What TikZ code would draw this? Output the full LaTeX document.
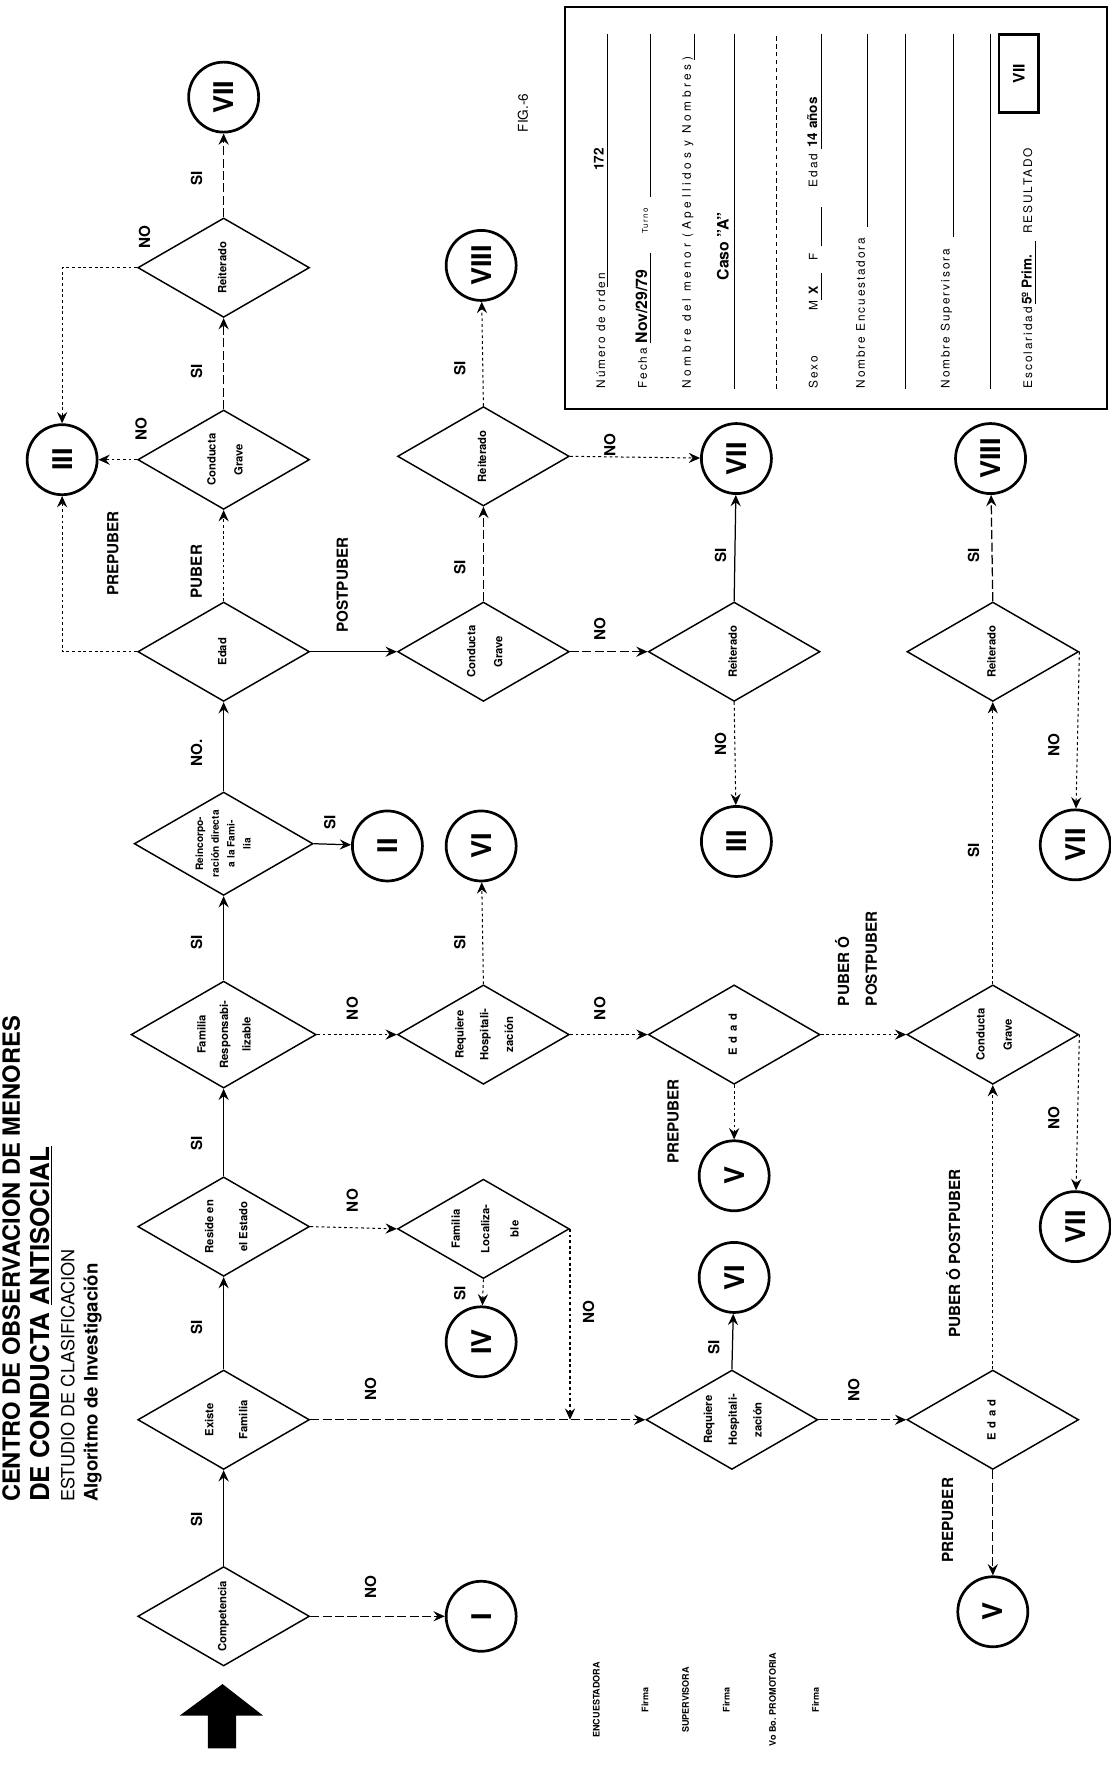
\documentclass[tikz,border=0pt]{standalone}
\usepackage{fontspec}
\usepackage{graphicx}
\setmainfont{TeX Gyre Heros}
\newfontfamily\formfont{TeX Gyre Heros}[LetterSpace=16]
\newfontfamily\wideform{TeX Gyre Heros}[LetterSpace=30]
\usetikzlibrary{shapes.geometric, positioning, arrows.meta, calc}
\newcommand{\fsz}[1]{\fontsize{#1}{#1}\selectfont}
\newcommand{\dtx}[3][10]{\rotatebox{90}{\fontsize{#1}{#2}\selectfont\bfseries\begin{tabular}{@{}c@{}}#3\end{tabular}}}

\begin{document}
\begin{tikzpicture}[x=1pt, y=-1pt,
    dia/.style={diamond, draw, line width=1.3pt, minimum width=152pt, minimum height=88pt, inner sep=0pt, shape aspect=1.73},
    res/.style={circle, draw, line width=2.4pt, minimum size=62pt, inner sep=0pt, rotate=90, font=\bfseries\fsz{24}},
    lab/.style={rotate=90, inner sep=1pt, font=\bfseries\fsz{13.5}},
    ttl/.style={rotate=90, anchor=west, inner sep=0pt, font=\bfseries\fsz{23}},
    frm/.style={rotate=90, anchor=west, inner sep=0pt, font=\formfont\fsz{10.5}},
    sig/.style={rotate=90, inner sep=0pt, font=\bfseries\fsz{8}},
    flow/.style={-{Stealth[length=10pt, width=9pt, inset=3.5pt]}, line width=1.1pt},
    dflow/.style={flow, dash pattern=on 8pt off 3pt},
    oflow/.style={flow, line width=0.9pt, dash pattern=on 2.5pt off 2.5pt},
    fline/.style={line width=0.8pt}]
    \fill[white] (0,0) rectangle (983,1568);
    \useasboundingbox (0,0) rectangle (983,1568);

    % title
    \node[ttl, font=\bfseries\fsz{21}] (t1) at (10,1330) {CENTRO DE OBSERVACION DE MENORES};
    \node[ttl] (t2) at (36,1330) {DE CONDUCTA \underline{ANTISOCIAL}};
    \node[ttl, font=\fsz{16}] (t3) at (60,1330) {ESTUDIO DE CLASIFICACION};
    \node[ttl, font=\bfseries\fsz{16.5}] (t4) at (82,1330) {Algoritmo de Investigación};
    \node[rotate=90, font=\fsz{12}] (fig) at (463,100) {FIG.-6};

    % entry arrow
    \fill (197,1491) -- (233,1519) -- (209,1519) -- (209,1548) -- (184,1548) -- (184,1519) -- (159,1519) -- cycle;

    % decisions
    \node[dia] (comp)   at (198,1431) {\dtx{12}{Competencia}};
    \node[dia] (exist)  at (198,1257) {\dtx{30}{Existe\\Familia}};
    \node[dia] (reside) at (198,1086) {\dtx{30}{Reside en\\el Estado}};
    \node[dia] (famres) at (198,916)  {\dtx{20}{Familia\\Responsabi-\\lizable}};
    \node[dia] (reinc)  at (198,747)  {\dtx[9]{14}{Reincorpo-\\ración directa\\a la Fami-\\lia}};
    \node[dia] (edad1)  at (198,577)  {\dtx{12}{Edad}};
    \node[dia] (cg1)    at (198,407)  {\dtx{24}{Conducta\\Grave}};
    \node[dia] (reit1)  at (198,237)  {\dtx{12}{Reiterado}};
    \node[dia] (reit2)  at (428,404)  {\dtx{12}{Reiterado}};
    \node[dia] (cg2)    at (428,577)  {\dtx{24}{Conducta\\Grave}};
    \node[dia] (rh2)    at (428,916)  {\dtx{22}{Requiere\\Hospitali-\\zación}};
    \node[dia] (floc)   at (428,1088) {\dtx{26}{Familia\\Localiza-\\ble}};
    \node[dia] (reit3)  at (650,577)  {\dtx{12}{Reiterado}};
    \node[dia] (edad3)  at (650,916)  {\dtx{12}{E\hspace{4pt}d\hspace{4pt}a\hspace{4pt}d}};
    \node[dia] (rh3)    at (648,1257) {\dtx{22}{Requiere\\Hospitali-\\zación}};
    \node[dia] (reit4)  at (879,577)  {\dtx{12}{Reiterado}};
    \node[dia] (cg4)    at (879,916)  {\dtx{24}{Conducta\\Grave}};
    \node[dia] (edad4)  at (879,1257) {\dtx{12}{E\hspace{4pt}d\hspace{4pt}a\hspace{4pt}d}};

    % results
    \node[res] (vii1)   at (198,86)   {VII};
    \node[res] (iii1)   at (55,407)   {III};
    \node[res] (ci)     at (426,1431) {I};
    \node[res] (civ)    at (426,1188) {IV};
    \node[res] (cii)    at (343,749)  {II};
    \node[res] (cvi2)   at (426,749)  {VI};
    \node[res] (cviii2) at (426,235)  {VIII};
    \node[res] (cvii3)  at (652,406)  {VII};
    \node[res] (ciii3)  at (652,745)  {III};
    \node[res] (cv3)    at (650,1041) {V};
    \node[res] (cvi3)   at (650,1131) {VI};
    \node[res] (cviii4) at (877,406)  {VIII};
    \node[res] (cvii4a) at (952,748)  {VII};
    \node[res] (cvii4b) at (952,1086) {VII};
    \node[res] (cv4)    at (879,1427) {V};

    % connectors
    \draw[flow] (comp.north) -- (exist.south);
    \draw[flow] (exist.north) -- (reside.south);
    \draw[flow] (reside.north) -- (famres.south);
    \draw[flow] (famres.north) -- (reinc.south);
    \draw[flow] (reinc.north) -- (edad1.south);
    \draw[oflow] (edad1.north) -- (cg1.south);
    \draw[dflow] (cg1.north) -- (reit1.south);
    \draw[dflow] (reit1.north) -- (vii1);
    \draw[oflow] (cg1.west) -- (iii1);
    \draw[oflow] (reit1.west) -| (iii1);
    \draw[oflow] (edad1.west) -| (iii1);
    \draw[dflow] (comp.east) -- (ci);
    \draw[dflow] (exist.east) -- (rh3.west);
    \draw[oflow] (reside.east) -- (floc.west);
    \draw[oflow] (floc.south) -- (civ);
    \coordinate (flocj) at (floc.east |- exist.east);
    \draw[oflow] (floc.east) -- (flocj);
    \draw[oflow] (famres.east) -- (rh2.west);
    \draw[flow] (reinc.east) -- (cii);
    \draw[oflow] (rh2.north) -- (cvi2);
    \draw[oflow] (rh2.east) -- (edad3.west);
    \draw[flow] (edad1.east) -- (cg2.west);
    \draw[dflow] (cg2.north) -- (reit2.south);
    \draw[dflow] (cg2.east) -- (reit3.west);
    \draw[oflow] (reit2.north) -- (cviii2);
    \draw[oflow] (reit2.east) -- (cvii3);
    \draw[flow] (reit3.north) -- (cvii3);
    \draw[oflow] (reit3.south) -- (ciii3);
    \draw[oflow] (edad3.south) -- (cv3);
    \draw[oflow] (edad3.east) -- (cg4.west);
    \draw[flow] (rh3.north) -- (cvi3);
    \draw[dflow] (rh3.east) -- (edad4.west);
    \draw[dflow] (edad4.south) -- (cv4);
    \draw[oflow] (edad4.north) -- (cg4.south);
    \draw[oflow] (cg4.north) -- (reit4.south);
    \draw[dflow] (reit4.north) -- (cviii4);
    \draw[oflow] (reit4.east) -- (cvii4a);
    \draw[oflow] (cg4.east) -- (cvii4b);

    % branch labels
    \foreach \x/\y/\t [count=\i] in {174/1345/SI, 174/1175/SI, 174/1012/SI, 174/834/SI,
        174/667/NO., 174/506/PUBER, 174/329/SI, 174/158/SI, 328/1405/NO, 328/1230/NO,
        312/1063/NO, 312/893/NO, 292/728/SI, 128/210/NO, 125/380/NO, 100/490/PREPUBER,
        303/518/POSTPUBER, 407/1145/SI, 521/1162/NO, 407/834/SI, 531/893/NO, 407/502/SI,
        531/557/NO, 407/326/SI, 540/394/NO, 638/492/SI, 638/659/NO, 596/993/PREPUBER,
        632/1193/SI, 756/1231/NO, 862/492/SI, 933/660/NO, 862/753/SI, 933/990/NO,
        844/1110/PUBER Ó POSTPUBER, 839/1346/PREPUBER}
        \node[lab] (lab\i) at (\x,\y) {\t};
    \node[lab, anchor=west, align=left] (labpp) at (758,892) {PUBER Ó\\[11pt]POSTPUBER};

    % signatures
    \foreach \x/\t [count=\i] in {528/ENCUESTADORA, 571/Firma, 607/SUPERVISORA, 643/Firma,
        684/Vo Bo. PROMOTORIA, 722/Firma}
        \node[sig] (sig\i) at (\x,1505) {\t};

    % data sheet
    \draw[line width=1.8pt] (500,6) rectangle (980,362);
    \node[frm] (f1) at (532,344) {Número de orden};
    \node[rotate=90, font=\bfseries\fsz{12}] (f1v) at (530,141) {172};
    \node[frm] (f2) at (569,344) {Fecha};
    \node[frm, font=\bfseries\fsz{14}] (f2v) at (568,304) {Nov/29/79};
    \node[frm, font=\formfont\fsz{7}] (f2t) at (571,207) {Turno};
    \node[frm, font=\wideform\fsz{10.5}] (f3) at (609,344) {Nombre del menor (Apellidos y Nombres)};
    \node[rotate=90, font=\bfseries\fsz{14}] (f3v) at (640,218) {Caso "A"};
    \node[frm] (f4) at (720,344) {Sexo};
    \node[frm] (f4m) at (720,275) {M};
    \node[frm, font=\bfseries\fsz{11}] (f4x) at (720,261) {X};
    \node[frm] (f4f) at (720,231) {F};
    \node[frm] (f4e) at (720,166) {Edad};
    \node[frm, font=\bfseries\fsz{12}] (f4v) at (719,131) {14 años};
    \node[frm] (f5) at (762,344) {Nombre Encuestadora};
    \node[frm] (f6) at (838,344) {Nombre Supervisora};
    \node[frm] (f7) at (910,344) {Escolaridad};
    \node[frm, font=\bfseries\fsz{12}] (f7v) at (909,270) {5º Prim.};
    \node[frm] (f7r) at (910,207) {RESULTADO};
    \node[draw, line width=2pt, rotate=90, minimum width=69pt, minimum height=35pt, inner sep=0pt,
        font=\bfseries\fsz{14}] (resbox) at (902,65) {VII};
    \foreach \x/\ya/\yb in {538/254/30, 576/304/224, 576/174/30, 615/53/30, 650/344/30,
        727/266/242, 727/218/183, 727/132/30, 768/201/30, 802/344/30, 844/210/30,
        877/344/30, 917/269/213}
        \draw[fline] (\x,\ya) -- (\x,\yb);
    \draw[fline, dash pattern=on 4pt off 3pt] (687,344) -- (687,30);
\end{tikzpicture}
\end{document}
